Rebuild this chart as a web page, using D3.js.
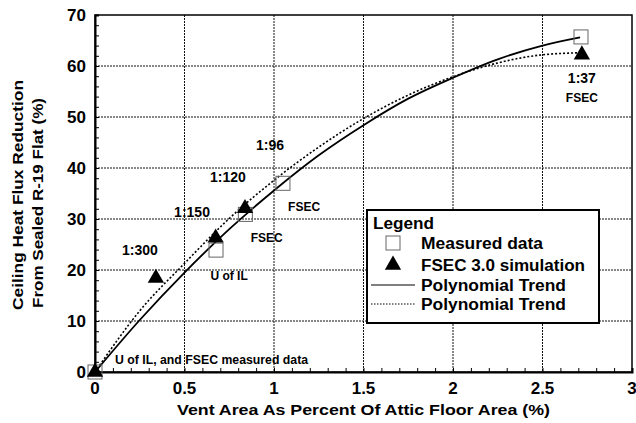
<!DOCTYPE html>
<html>
<head>
<meta charset="utf-8">
<script src="https://cdn.jsdelivr.net/npm/d3@7"></script>
<style>
  body { margin: 0; background: #fff; }
  text { font-family: "Liberation Sans", Arial, Helvetica, sans-serif; font-weight: bold; fill: #000; }
</style>
</head>
<body>
<svg id="chart" width="636" height="423"></svg>
<script>
// Measured ceiling heat flux reduction (%) vs vent area (% of attic floor area)
const measuredX = [0, 0.676, 0.84, 1.05, 2.715];
const measuredY = [0, 23.9, 30.9, 37.0, 65.7];

// FSEC 3.0 simulation results
const simX = [0, 0.34, 0.674, 0.838, 2.72];
const simY = [0, 18.4, 26.3, 32.1, 62.2];

// Polynomial trend through the measured data (sampled)
const trendMeasX = [0, 0.25, 0.5, 0.75, 1.0, 1.25, 1.5, 1.75, 2.0, 2.25, 2.5, 2.71];
const trendMeasY = [0, 10.2, 19.5, 28.0, 35.6, 42.5, 48.4, 53.6, 57.7, 61.3, 64.0, 65.6];

// Polynomial trend through the simulation results (sampled)
const trendSimX = [0, 0.25, 0.5, 0.75, 1.0, 1.25, 1.5, 1.75, 2.0, 2.25, 2.5, 2.72];
const trendSimY = [0, 12.0, 21.3, 30.1, 37.6, 44.1, 49.7, 54.3, 57.9, 60.6, 62.2, 62.6];

// Axis ticks
const xTicks = [0, 0.5, 1, 1.5, 2, 2.5, 3];
const yTicks = [0, 10, 20, 30, 40, 50, 60, 70];

// Vent ratio and source annotations, anchored in data units
const noteText = ["1:300", "1:150", "1:120", "1:96", "1:37", "FSEC", "FSEC", "FSEC", "U of IL"];
const noteX    = [0.251, 0.542, 0.743, 0.978, 2.72, 2.72, 1.168, 0.959, 0.749];
const noteY    = [23.9, 31.4, 38.3, 44.5, 57.7, 53.7, 32.5, 26.4, 18.8];
const noteBig  = [true, true, true, true, true, false, false, false, false];

const svg = d3.select("#chart");
const plotL = 95, plotR = 632, plotT = 15, plotB = 372;

const x = d3.scaleLinear().domain([0, 3]).range([plotL, plotR]);
const y = d3.scaleLinear().domain([0, 70]).range([plotB, plotT]);

// Major grid lines
const grid = svg.append("g").attr("stroke", "#111").attr("stroke-width", 1)
  .attr("stroke-dasharray", "2,1");
grid.selectAll("line.v").data(xTicks.slice(1, -1)).join("line").attr("class", "v")
  .attr("x1", d => x(d)).attr("x2", d => x(d)).attr("y1", plotT).attr("y2", plotB);
grid.selectAll("line.h").data(yTicks.slice(1, -1)).join("line").attr("class", "h")
  .attr("x1", plotL).attr("x2", plotR).attr("y1", d => y(d)).attr("y2", d => y(d));

// Plot frame
svg.append("rect").attr("x", plotL).attr("y", plotT)
  .attr("width", plotR - plotL).attr("height", plotB - plotT)
  .attr("fill", "none").attr("stroke", "#000").attr("stroke-width", 1.5);

// Axes: inward minor ticks, labels outside
const xMinor = d3.range(0, 31).map(i => i / 10);
const yMinor = d3.range(0, 36).map(i => i * 2);

const xAxis = svg.append("g").attr("transform", `translate(0,${plotB})`)
  .call(d3.axisBottom(x).tickValues(xMinor).tickSize(-4).tickFormat(""));
xAxis.select(".domain").attr("stroke-width", 2);
const yAxis = svg.append("g").attr("transform", `translate(${plotL},0)`)
  .call(d3.axisLeft(y).tickValues(yMinor).tickSize(-4).tickFormat(""));
yAxis.select(".domain").attr("stroke-width", 2);

svg.append("g").selectAll("text").data(xTicks).join("text")
  .attr("x", d => x(d)).attr("y", 393.5).attr("text-anchor", "middle")
  .attr("font-size", 17).text(d => d3.format("~g")(d));
svg.append("g").selectAll("text").data(yTicks).join("text")
  .attr("x", 86).attr("y", d => y(d)).attr("dy", "0.36em").attr("text-anchor", "end")
  .attr("font-size", 17).text(d => d);

// Axis titles
svg.append("text").attr("x", 177).attr("y", 415)
  .attr("font-size", 15.5).attr("textLength", 373).attr("lengthAdjust", "spacingAndGlyphs")
  .text("Vent Area As Percent Of Attic Floor Area (%)");
const yTitle = svg.append("g").attr("transform", "rotate(-90)");
yTitle.append("text").attr("x", -310).attr("y", 23)
  .attr("font-size", 15.5).attr("textLength", 230).attr("lengthAdjust", "spacingAndGlyphs")
  .text("Ceiling Heat Flux Reduction");
yTitle.append("text").attr("x", -308).attr("y", 43)
  .attr("font-size", 15.5).attr("textLength", 210).attr("lengthAdjust", "spacingAndGlyphs")
  .text("From Sealed R-19 Flat (%)");

// Trend lines
const line = d3.line().x(d => x(d[0])).y(d => y(d[1])).curve(d3.curveMonotoneX);
svg.append("path").datum(d3.zip(trendMeasX, trendMeasY)).attr("d", line)
  .attr("fill", "none").attr("stroke", "#000").attr("stroke-width", 1.8);
svg.append("path").datum(d3.zip(trendSimX, trendSimY)).attr("d", line)
  .attr("fill", "none").attr("stroke", "#000").attr("stroke-width", 1.6)
  .attr("stroke-dasharray", "2,2");

// Markers
const sq = 14;
svg.append("g").selectAll("rect").data(d3.zip(measuredX, measuredY)).join("rect")
  .attr("x", d => x(d[0]) - sq / 2).attr("y", d => y(d[1]) - sq / 2)
  .attr("width", sq).attr("height", sq)
  .attr("fill", "none").attr("stroke", "#666").attr("stroke-width", 1);
const tri = d3.symbol().type(d3.symbolTriangle).size(115);
svg.append("g").selectAll("path").data(d3.zip(simX, simY)).join("path")
  .attr("transform", d => `translate(${x(d[0])},${y(d[1])})`)
  .attr("d", tri).attr("fill", "#000");

// Annotations
svg.append("g").selectAll("text").data(d3.range(noteText.length)).join("text")
  .attr("x", i => x(noteX[i])).attr("y", i => y(noteY[i])).attr("dy", "0.36em")
  .attr("text-anchor", "middle").attr("font-size", i => noteBig[i] ? 14 : 12)
  .text(i => noteText[i]);
svg.append("text").attr("x", x(0.112)).attr("y", y(2.35)).attr("dy", "0.36em")
  .attr("font-size", 12).attr("textLength", 193).attr("lengthAdjust", "spacingAndGlyphs")
  .text("U of IL, and FSEC measured data");

// Legend
const lg = svg.append("g");
lg.append("rect").attr("x", 367).attr("y", 210).attr("width", 232).attr("height", 113)
  .attr("fill", "#fff").attr("stroke", "#000").attr("stroke-width", 2);
lg.append("text").attr("x", 373).attr("y", 223).attr("dy", "0.36em")
  .attr("font-size", 16).attr("textLength", 61).attr("lengthAdjust", "spacingAndGlyphs")
  .text("Legend");
const rows = [243, 265, 285, 304];
const labels = ["Measured data", "FSEC 3.0 simulation", "Polynomial Trend", "Polynomial Trend"];
const labelLen = [122, 164, 145, 145];
lg.selectAll("text.row").data(labels).join("text").attr("class", "row")
  .attr("x", 421).attr("y", (d, i) => rows[i]).attr("dy", "0.36em")
  .attr("font-size", 16).attr("textLength", (d, i) => labelLen[i])
  .attr("lengthAdjust", "spacingAndGlyphs").text(d => d);
lg.append("rect").attr("x", 393 - 7).attr("y", rows[0] - 7).attr("width", 14).attr("height", 14)
  .attr("fill", "none").attr("stroke", "#666").attr("stroke-width", 1);
lg.append("path").attr("transform", `translate(393,${rows[1]})`).attr("d", tri).attr("fill", "#000");
lg.append("line").attr("x1", 371).attr("x2", 415).attr("y1", rows[2]).attr("y2", rows[2])
  .attr("stroke", "#000").attr("stroke-width", 1);
lg.append("line").attr("x1", 371).attr("x2", 415).attr("y1", rows[3]).attr("y2", rows[3])
  .attr("stroke", "#000").attr("stroke-width", 1).attr("stroke-dasharray", "1.5,1.5");
</script>
</body>
</html>
